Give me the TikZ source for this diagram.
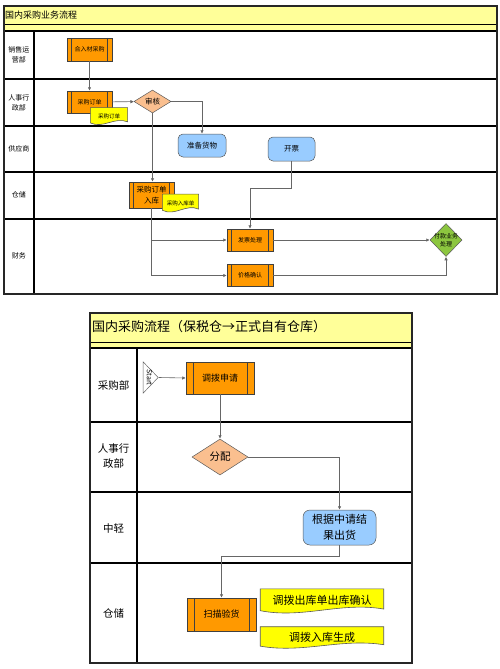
\documentclass[tikz,border=0pt]{standalone}
\usepackage{fontspec}
\newfontfamily\cjk{Noto Sans CJK SC}
\usetikzlibrary{arrows.meta,calc,shapes.geometric}
\definecolor{procorange}{HTML}{FF9900}
\definecolor{bandyellow}{HTML}{FFFF99}
\definecolor{docyellow}{HTML}{FFFF00}
\definecolor{chksalmon}{HTML}{FABF8F}
\definecolor{taskblue}{HTML}{99CCFF}
\definecolor{paygreen}{HTML}{8CC63F}

\begin{document}
\begin{tikzpicture}[x=1pt,y=-1pt,
  every node/.style={font=\cjk,inner sep=0pt,align=center},
  fs/.style={font=\cjk\fontsize{#1}{\dimexpr#1pt*14/10\relax}\selectfont},
  lane/.style={line width=1.3pt},
  frame/.style={line width=1.4pt,draw=black!85},
  flow/.style={-{Latex[length=3.5pt,width=3.5pt]},draw=black!60,line width=0.6pt},
  proc/.style={draw=black!75,fill=procorange,line width=0.5pt,
    path picture={
      \draw[black!75,line width=0.5pt]
        ($(path picture bounding box.north west)!0.1!(path picture bounding box.north east)$) --
        ($(path picture bounding box.south west)!0.1!(path picture bounding box.south east)$)
        ($(path picture bounding box.north east)!0.1!(path picture bounding box.north west)$) --
        ($(path picture bounding box.south east)!0.1!(path picture bounding box.south west)$);}},
  doc/.style={path picture={
      \path (path picture bounding box.north west) coordinate (a)
            (path picture bounding box.north east) coordinate (b)
            (path picture bounding box.south west) coordinate (c);
      \draw[fill=docyellow,draw=black!65,line width=0.6pt]
        ($(a)!0.01!(b)+0.03*(c)-0.03*(a)$) -- ($(a)!0.99!(b)+0.03*(c)-0.03*(a)$)
        -- ($(a)!0.99!(b)+0.78*(c)-0.78*(a)$)
        .. controls ($(a)!0.65!(b)+0.5*(c)-0.5*(a)$) and ($(a)!0.35!(b)+1.15*(c)-1.15*(a)$)
        .. ($(a)!0.01!(b)+0.84*(c)-0.84*(a)$) -- cycle;}},
  chk/.style={diamond,draw=black!65,fill=chksalmon,line width=0.5pt,aspect=1.6},
  task/.style={draw=black!65,fill=taskblue,rounded corners=5pt,line width=0.5pt},
  paybox/.style={diamond,draw=black!65,fill=paygreen,line width=0.5pt},
  starttri/.style={isosceles triangle,isosceles triangle stretches,draw=black!60,fill=white,line width=0.5pt}]

 % domestic purchase, business flow
 \fill[bandyellow] (4,6) rectangle (497,31);
 \draw[line width=1pt] (4,25) -- (497,25);
 \foreach \y in {31,79,126,172,219} \draw[lane] (4,\y) -- (497,\y);
 \draw[lane] (34,31) -- (34,294);
 \draw[frame] (4,6) rectangle (497,294);
 \node[fs=9,anchor=west] (title1) at (5,15.5) {国内采购业务流程};
 \node[fs=7] (s1) at (19,55) {销售运\\营部};
 \node[fs=7] (s2) at (19,103) {人事行\\政部};
 \node[fs=7] (s3) at (19,149) {供应商};
 \node[fs=7] (s4) at (19,195) {仓储};
 \node[fs=7] (s5) at (19,256) {财务};

 \node[proc,fs=6,minimum width=45pt,minimum height=23pt] (imp) at (89.5,49.5) {合入材采购};
 \node[proc,fs=6,minimum width=45pt,minimum height=22pt] (po) at (89.5,102) {采购订单};
 \node[doc,fs=5.5,minimum width=38pt,minimum height=19pt] (pod) at (109,116.5) {\raisebox{1.5pt}{采购订单}};
 \node[chk,fs=7.5,minimum width=37pt,minimum height=23pt] (chk) at (152.5,101.5) {审核};
 \node[task,fs=7.5,minimum width=48pt,minimum height=23pt] (prep) at (202,145.5) {准备货物};
 \node[task,fs=7.5,minimum width=47pt,minimum height=24pt] (bill) at (291.5,149) {开票};
 \node[proc,fs=7.5,minimum width=45pt,minimum height=26pt] (poin) at (151.5,195) {采购订单\\入库};
 \node[doc,fs=5.5,minimum width=37pt,minimum height=20pt] (rcd) at (180.5,203.5) {\raisebox{1.5pt}{采购入库单}};
 \node[proc,fs=6,minimum width=46pt,minimum height=22pt] (inv) at (250,240) {发票处理};
 \node[proc,fs=6,minimum width=46pt,minimum height=22pt] (price) at (250,275.5) {价格确认};
 \node[paybox,minimum width=32pt,minimum height=33pt,label={[fs=6]center:付款业务\\处理}] (pay) at (446,240) {};

 \draw[flow] (imp) -- (po);
 \draw[flow] (po) -- (chk);
 \draw[flow] (chk.east) -| (prep.north);
 \draw[flow] (chk.south) -- (chk.south |- poin.north);
 \draw[flow] (poin.south) |- (inv.west);
 \draw[flow] (poin.south) |- (price.west);
 \draw[flow] (bill.south) -- ++(0,27) -| (inv.north);
 \draw[flow] (inv) -- (pay);
 \draw[flow] (price.east) -| (pay.south);

 % bonded warehouse -> own warehouse
 \fill[bandyellow] (90,313) rectangle (412,348);
 \draw[line width=1pt] (90,342) -- (412,342);
 \foreach \y in {348,422,492,563} \draw[lane] (90,\y) -- (412,\y);
 \draw[lane] (137,348) -- (137,663);
 \draw[frame] (90,313) rectangle (412,663);
 \node[fs=13,anchor=west] (title2) at (92,327) {国内采购流程（保税仓→正式自有仓库）};
 \node[fs=10.5] (b1) at (113.5,385) {采购部};
 \node[fs=10.5] (b2) at (113.5,456) {人事行\\政部};
 \node[fs=10.5] (b3) at (113.5,528) {中轻};
 \node[fs=10.5] (b4) at (113.5,613) {仓储};

 \node[starttri,minimum width=31pt,minimum height=15pt,label={[fs=7,rotate=-90]center:Start}] (start) at (149.5,377.5) {};
 \node[proc,fs=9,minimum width=68pt,minimum height=32pt] (req) at (220,378) {调拨申请};
 \node[chk,fs=10.5,minimum width=56pt,minimum height=36pt] (alloc) at (220,457) {分配};
 \node[task,fs=11,rounded corners=7pt,minimum width=73pt,minimum height=35pt] (ship) at (339.5,527.5) {根据中请结\\果出货};
 \node[proc,fs=9,minimum width=69pt,minimum height=33pt] (scan) at (221.5,614.5) {扫描验货};
 \node[doc,fs=11,minimum width=126pt,minimum height=27pt] (outd) at (322,601.5) {\raisebox{2.5pt}{调拨出库单出库确认}};
 \node[doc,fs=11,minimum width=126pt,minimum height=24pt] (ind) at (322,638) {\raisebox{2.5pt}{调拨入库生成}};

 \draw[flow] (start.apex) -- (req.west);
 \draw[flow] (req) -- (alloc);
 \draw[flow] (alloc.east) -| (ship.north);
 \draw[flow] (ship.south) -- ++(0,11) -| (scan.north);
 \useasboundingbox (0,0) rectangle (500,669);
\end{tikzpicture}
\end{document}
